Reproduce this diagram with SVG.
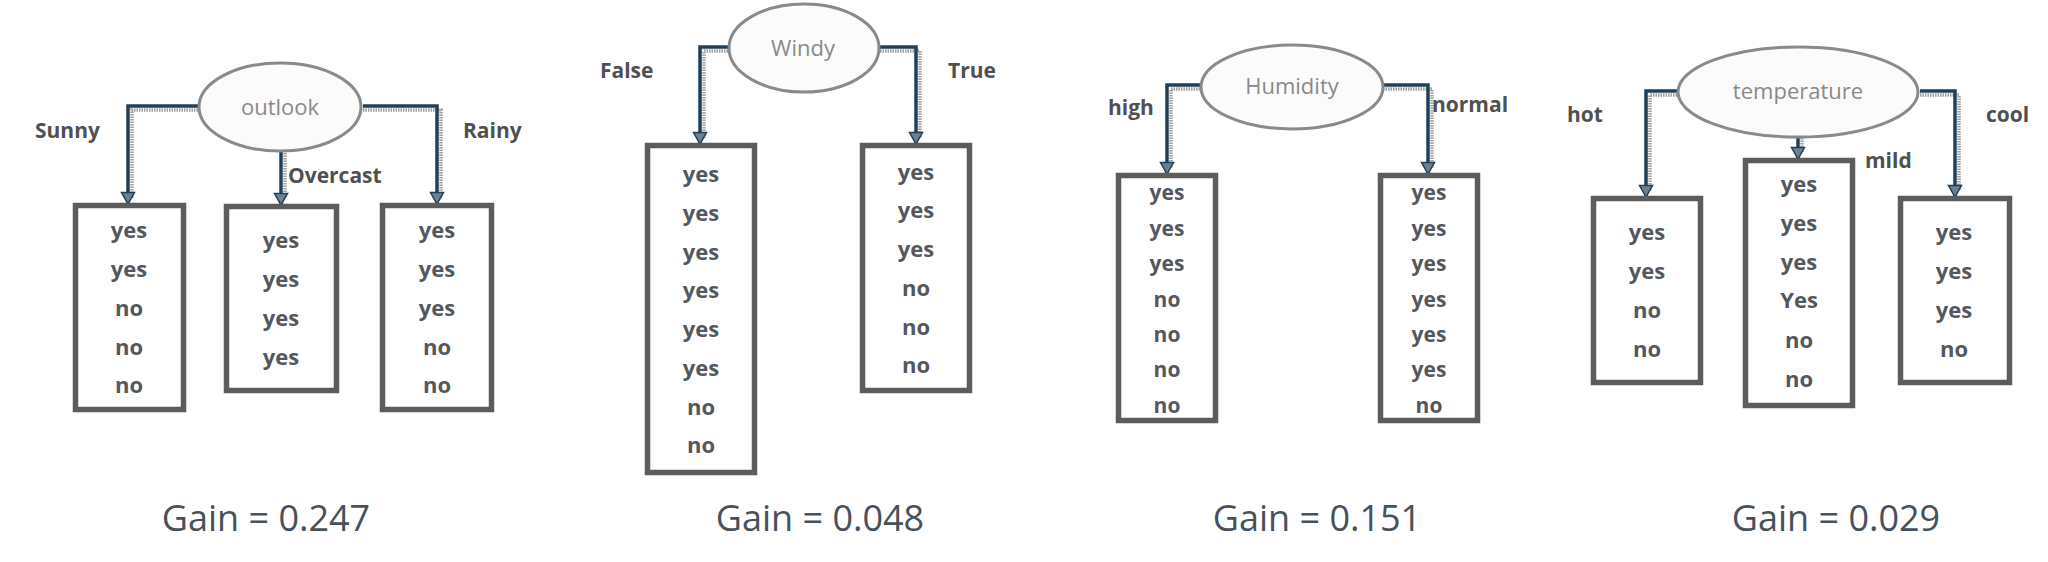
<svg xmlns="http://www.w3.org/2000/svg" width="2048" height="562" viewBox="0 0 2048 562">
<defs>
<style>
.ell{fill:#fbfbfb;stroke:#8a8a8a;stroke-width:3}
.et{font-family:"Open Sans","Noto Sans",sans-serif;font-size:22px;fill:#8a8a8a;text-anchor:middle}
.box{fill:#fff;stroke:#5c5c5c;stroke-width:5.5}
.bt{font-family:"Open Sans","Noto Sans",sans-serif;font-size:22px;font-weight:700;fill:#54585c;text-anchor:middle}
.bt3{font-size:21px}
.lbl{font-family:"Open Sans","Noto Sans",sans-serif;font-size:21px;font-weight:700;fill:#505050}
.gain{font-family:"Open Sans","Noto Sans",sans-serif;font-size:36px;fill:#46515c;text-anchor:middle}
.sh{fill:none;stroke:#a0a0a0;stroke-width:3.5;stroke-dasharray:1.5 1}
.cn{fill:none;stroke:#1f4058;stroke-width:3.5;marker-end:url(#arr)}
</style>
<marker id="arr" markerUnits="userSpaceOnUse" markerWidth="16" markerHeight="14" viewBox="0 0 16 14" refX="8" refY="13" orient="0">
<path d="M1.5,1.5 L14.5,1.5 L8,13 Z" fill="#6f7f8c" stroke="#1f4058" stroke-width="1.5"/>
</marker>
</defs>
<rect width="2048" height="562" fill="#fff"/>

<g id="connectors">
<path class="sh" d="M198,110 H132 V198"/>
<path class="sh" d="M363,110 H441 V198"/>
<path class="sh" d="M285,153 V198"/>
<path class="sh" d="M728,51 H704 V138"/>
<path class="sh" d="M880,51 H920 V138"/>
<path class="sh" d="M1200,89 H1171 V168"/>
<path class="sh" d="M1383,89 H1432 V168"/>
<path class="sh" d="M1677,95 H1650 V191"/>
<path class="sh" d="M1920,95 H1959 V191"/>
<path class="sh" d="M1802,138 V152"/>
<path class="cn" d="M198,106 H128 V204"/>
<path class="cn" d="M363,106 H437 V204"/>
<path class="cn" d="M281,152 V205"/>
<path class="cn" d="M728,47 H700 V144"/>
<path class="cn" d="M880,47 H916 V144"/>
<path class="cn" d="M1200,85 H1167 V174"/>
<path class="cn" d="M1383,85 H1428 V174"/>
<path class="cn" d="M1677,91 H1646 V197"/>
<path class="cn" d="M1920,91 H1955 V197"/>
<path class="cn" d="M1798,137 V159"/>
</g>

<g id="tree-outlook">
<g id="n-outlook"><ellipse class="ell" cx="280" cy="107" rx="81" ry="44"/><text class="et" x="280" y="115">outlook</text></g>
<text class="lbl" x="35" y="138">Sunny</text>
<text class="lbl" x="288" y="183">Overcast</text>
<text class="lbl" x="463" y="138">Rainy</text>
<g id="n-sunny"><rect class="box" x="75.5" y="205.5" width="108" height="204"/>
<text class="bt" x="129" y="238">yes</text><text class="bt" x="129" y="277">yes</text><text class="bt" x="129" y="316">no</text><text class="bt" x="129" y="355">no</text><text class="bt" x="129" y="393">no</text></g>
<g id="n-overcast"><rect class="box" x="226.5" y="206.5" width="110" height="184"/>
<text class="bt" x="281" y="248">yes</text><text class="bt" x="281" y="287">yes</text><text class="bt" x="281" y="326">yes</text><text class="bt" x="281" y="365">yes</text></g>
<g id="n-rainy"><rect class="box" x="382.5" y="205.5" width="109" height="204"/>
<text class="bt" x="437" y="238">yes</text><text class="bt" x="437" y="277">yes</text><text class="bt" x="437" y="316">yes</text><text class="bt" x="437" y="355">no</text><text class="bt" x="437" y="393">no</text></g>
<text class="gain" x="266" y="531">Gain = 0.247</text>
</g>

<g id="tree-windy">
<g id="n-windy"><ellipse class="ell" cx="804" cy="48" rx="75" ry="44"/><text class="et" x="803" y="56">Windy</text></g>
<text class="lbl" x="600" y="78">False</text>
<text class="lbl" x="948" y="78">True</text>
<g id="n-false"><rect class="box" x="647.5" y="145.5" width="107" height="327"/>
<text class="bt" x="701" y="182">yes</text><text class="bt" x="701" y="221">yes</text><text class="bt" x="701" y="260">yes</text><text class="bt" x="701" y="298">yes</text><text class="bt" x="701" y="337">yes</text><text class="bt" x="701" y="376">yes</text><text class="bt" x="701" y="415">no</text><text class="bt" x="701" y="453">no</text></g>
<g id="n-true"><rect class="box" x="862.5" y="145.5" width="107" height="245"/>
<text class="bt" x="916" y="180">yes</text><text class="bt" x="916" y="218">yes</text><text class="bt" x="916" y="257">yes</text><text class="bt" x="916" y="296">no</text><text class="bt" x="916" y="335">no</text><text class="bt" x="916" y="373">no</text></g>
<text class="gain" x="820" y="531">Gain = 0.048</text>
</g>

<g id="tree-humidity">
<g id="n-humidity"><ellipse class="ell" cx="1292" cy="87" rx="91" ry="42"/><text class="et" x="1292" y="94">Humidity</text></g>
<text class="lbl" x="1108" y="115">high</text>
<text class="lbl" x="1432" y="112">normal</text>
<g id="n-high"><rect class="box" x="1118.5" y="175.5" width="97" height="245"/>
<text class="bt bt3" x="1167" y="200">yes</text><text class="bt bt3" x="1167" y="236">yes</text><text class="bt bt3" x="1167" y="271">yes</text><text class="bt bt3" x="1167" y="307">no</text><text class="bt bt3" x="1167" y="342">no</text><text class="bt bt3" x="1167" y="377">no</text><text class="bt bt3" x="1167" y="413">no</text></g>
<g id="n-normal"><rect class="box" x="1380.5" y="175.5" width="97" height="245"/>
<text class="bt bt3" x="1429" y="200">yes</text><text class="bt bt3" x="1429" y="236">yes</text><text class="bt bt3" x="1429" y="271">yes</text><text class="bt bt3" x="1429" y="307">yes</text><text class="bt bt3" x="1429" y="342">yes</text><text class="bt bt3" x="1429" y="377">yes</text><text class="bt bt3" x="1429" y="413">no</text></g>
<text class="gain" x="1317" y="531">Gain = 0.151</text>
</g>

<g id="tree-temperature">
<g id="n-temperature"><ellipse class="ell" cx="1798" cy="92" rx="120" ry="45"/><text class="et" x="1798" y="99">temperature</text></g>
<text class="lbl" x="1567" y="122">hot</text>
<text class="lbl" x="1865" y="168">mild</text>
<text class="lbl" x="1986" y="122">cool</text>
<g id="n-hot"><rect class="box" x="1593.5" y="198.5" width="107" height="184"/>
<text class="bt" x="1647" y="240">yes</text><text class="bt" x="1647" y="279">yes</text><text class="bt" x="1647" y="318">no</text><text class="bt" x="1647" y="357">no</text></g>
<g id="n-mild"><rect class="box" x="1745.5" y="160.5" width="107" height="245"/>
<text class="bt" x="1799" y="192">yes</text><text class="bt" x="1799" y="231">yes</text><text class="bt" x="1799" y="270">yes</text><text class="bt" x="1799" y="308">Yes</text><text class="bt" x="1799" y="348">no</text><text class="bt" x="1799" y="387">no</text></g>
<g id="n-cool"><rect class="box" x="1900.5" y="198.5" width="109" height="184"/>
<text class="bt" x="1954" y="240">yes</text><text class="bt" x="1954" y="279">yes</text><text class="bt" x="1954" y="318">yes</text><text class="bt" x="1954" y="357">no</text></g>
<text class="gain" x="1836" y="531">Gain = 0.029</text>
</g>
</svg>
